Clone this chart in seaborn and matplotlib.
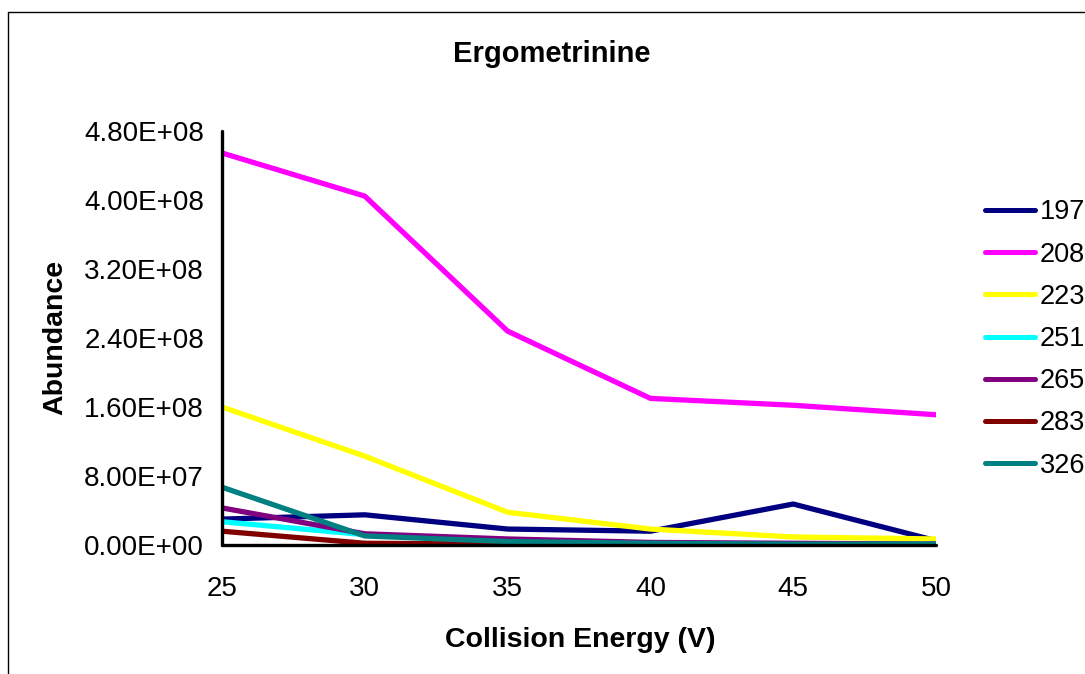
import numpy as np
import pandas as pd
import seaborn as sns
import matplotlib
matplotlib.use("Agg")
import matplotlib.pyplot as plt
from matplotlib.lines import Line2D
from matplotlib.ticker import FuncFormatter, MultipleLocator

# Collision energies (V)
energy = [25, 30, 35, 40, 45, 50]

# Fragment ion abundances per m/z
ion_197 = [3.0e7, 3.5e7, 1.85e7, 1.6e7, 4.75e7, 5.0e6]
ion_208 = [4.545e8, 4.045e8, 2.48e8, 1.70e8, 1.62e8, 1.51e8]
ion_223 = [1.60e8, 1.03e8, 3.8e7, 1.85e7, 9.3e6, 7.0e6]
ion_251 = [2.7e7, 1.2e7, 5.0e6, 2.0e6, 1.0e6, 1.0e6]
ion_265 = [4.3e7, 1.3e7, 7.0e6, 3.0e6, 2.0e6, 1.0e6]
ion_283 = [1.6e7, 2.0e6, 1.0e6, 5.0e5, 5.0e5, 5.0e5]
ion_326 = [6.7e7, 1.05e7, 4.0e6, 2.0e6, 1.0e6, 1.0e6]

ions = ["197", "208", "223", "251", "265", "283", "326"]
series = [ion_197, ion_208, ion_223, ion_251, ion_265, ion_283, ion_326]
colors = ["#000080", "#FF00FF", "#FFFF00", "#00FFFF", "#800080", "#800000", "#008080"]

df = pd.DataFrame(
    [(e, ion, v) for ion, vals in zip(ions, series) for e, v in zip(energy, vals)],
    columns=["Collision Energy (V)", "Ion", "Abundance"],
)

sns.set_theme(style="white")
plt.rcParams["font.family"] = ["Liberation Sans", "DejaVu Sans"]
plt.rcParams["text.color"] = "black"
plt.rcParams["axes.labelcolor"] = "black"

fig = plt.figure(figsize=(10.85, 6.74), dpi=100)
ax = fig.add_axes([222 / 1085, 1 - 545 / 674, (936 - 222) / 1085, (545 - 131) / 674])

sns.lineplot(
    data=df, x="Collision Energy (V)", y="Abundance", hue="Ion",
    hue_order=ions, palette=colors, linewidth=3.8, ax=ax, legend=False,
)

ax.set_xlim(25, 50)
ax.set_ylim(0, 4.8e8)
ax.xaxis.set_major_locator(MultipleLocator(5))
ax.yaxis.set_major_locator(MultipleLocator(8e7))
ax.yaxis.set_major_formatter(FuncFormatter(lambda v, p: f"{v:.2E}"))

for side in ["top", "right"]:
    ax.spines[side].set_visible(False)
for side in ["left", "bottom"]:
    ax.spines[side].set_linewidth(2.4)
    ax.spines[side].set_color("black")
    ax.spines[side].set_capstyle("round")

ax.tick_params(axis="both", direction="out", length=6, width=2.4, color="black",
               labelsize=20, labelcolor="black")
ax.tick_params(axis="y", pad=7)
ax.tick_params(axis="x", pad=16)
ax.grid(False)

ax.set_xlabel("Collision Energy (V)", fontsize=20.5, fontweight="bold", va="baseline")
ax.xaxis.set_label_coords((580 - 222) / 714, (545 - 647) / 414)
ax.set_ylabel("Abundance", fontsize=20.5, fontweight="bold", va="center")
ax.yaxis.set_label_coords((55 - 222) / 714, (545 - 337) / 414)

fig.text(552 / 1085, 1 - 62 / 674, "Ergometrinine", fontsize=21, fontweight="bold",
         ha="center", va="baseline", color="black")

handles = [Line2D([0], [0], color=c, lw=3.6, solid_capstyle="round") for c in colors]
fig.legend(
    handles, ions, loc="center left", bbox_to_anchor=(985 / 1085, 1 - 339 / 674),
    frameon=False, fontsize=19.5, handlelength=1.85, handletextpad=0.17,
    labelspacing=0.6, borderaxespad=0, borderpad=0,
)

# Outer chart frame
fig.add_artist(Line2D([8 / 1085, 8 / 1085], [0, 1 - 12 / 674], color="black", lw=1.0,
                      transform=fig.transFigure))
fig.add_artist(Line2D([8 / 1085, 1], [1 - 12 / 674, 1 - 12 / 674], color="black", lw=1.0,
                      transform=fig.transFigure))

fig.savefig("out.png", dpi=100, facecolor="white")
